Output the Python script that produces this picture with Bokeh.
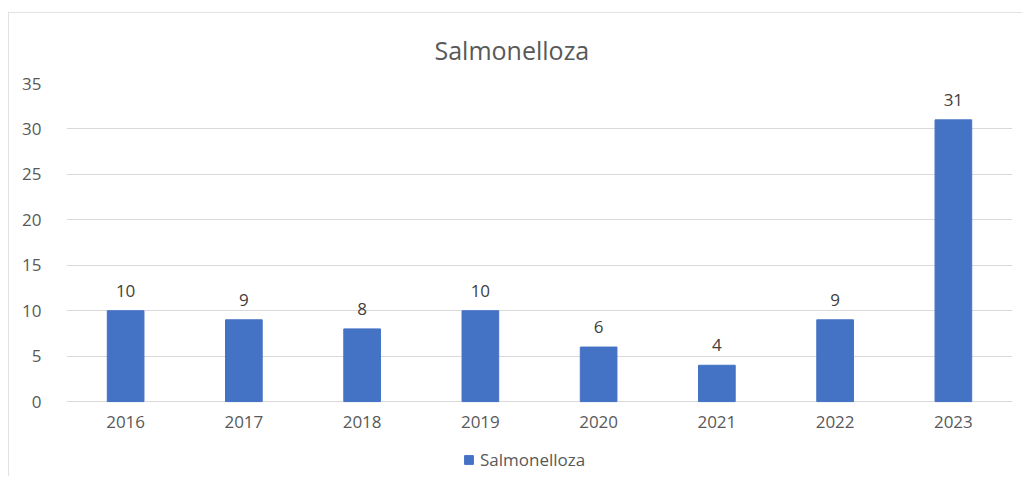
from bokeh.plotting import figure
from bokeh.models import ColumnDataSource, LabelSet, Legend, LegendItem
from bokeh.core.properties import value
from bokeh.embed import file_html
from bokeh.resources import INLINE

years = ["2016", "2017", "2018", "2019", "2020", "2021", "2022", "2023"]
cases = [10, 9, 8, 10, 6, 4, 9, 31]
series_name = "Salmonelloza"
y_ticks = [0, 5, 10, 15, 20, 25, 30, 35]

src = ColumnDataSource(dict(x=years, y=cases, lab=[str(v) for v in cases],
                            zero=[0] * len(years)))

# the lower part of the frame (below 0) holds the category labels and the legend
p = figure(x_range=years, y_range=(-7.8, 35), width=1014, height=464,
           output_backend="svg", toolbar_location=None,
           min_border_left=58, min_border_right=10, min_border_top=71, min_border_bottom=4)
p.styles = {"margin-left": "8px", "margin-top": "12px",
            "outline": "1px solid #d9d9d9", "outline-offset": "-1px"}

p.title.text = series_name
p.title.align = "left"
p.title.offset = 368
p.title.vertical_align = "top"
p.title.text_font = "Open Sans"
p.title.text_font_size = "25px"
p.title.text_font_style = "normal"
p.title.text_color = "#595959"
p.title.standoff = 29

r = p.vbar(x="x", top="y", width=0.31, source=src, fill_color="#4472C4", line_color="#4472C4")

labels = LabelSet(x="x", y="y", text="lab", source=src, text_align="center", text_baseline="bottom",
                  y_offset=14, text_font_size="17px", text_color="#404040",
                  text_font=value("Open Sans"))
p.add_layout(labels)

cat_labels = LabelSet(x="x", y="zero", text="x", source=src, text_align="center", text_baseline="top",
                      y_offset=-14, text_font_size="17px", text_color="#595959",
                      text_font=value("Open Sans"))
p.add_layout(cat_labels)

p.xaxis.visible = False
p.yaxis.ticker = y_ticks
p.yaxis.axis_line_color = None
p.yaxis.major_tick_line_color = None
p.yaxis.minor_tick_line_color = None
p.yaxis.major_label_text_font = "Open Sans"
p.yaxis.major_label_text_font_size = "17px"
p.yaxis.major_label_text_color = "#595959"
p.yaxis.major_label_standoff = 19

p.xgrid.grid_line_color = None
p.ygrid.grid_line_color = "#d9d9d9"
p.ygrid.grid_line_width = 1
p.outline_line_color = None

legend = Legend(items=[LegendItem(label=series_name, renderers=[r])], location=(397, 1),
                orientation="horizontal", border_line_color=None, background_fill_alpha=0,
                label_text_font="Open Sans", label_text_font_size="17px", label_text_color="#595959",
                glyph_width=11, glyph_height=11, padding=0, margin=0, label_standoff=6)
p.add_layout(legend, "center")

open("out.html", "w").write(file_html(p, INLINE))
